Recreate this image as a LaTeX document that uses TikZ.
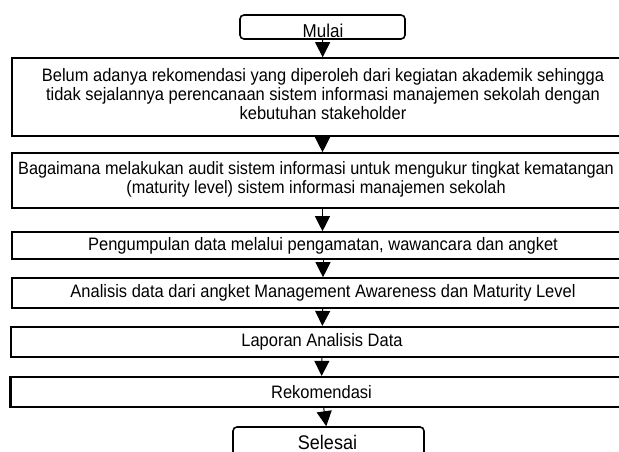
\documentclass[tikz,border=0pt]{standalone}
\usepackage{fontspec}
\setmainfont{Liberation Sans}[FakeStretch=0.915]
\usetikzlibrary{arrows.meta}
\begin{document}
\begin{tikzpicture}[x=1pt,y=-1pt,
  box/.style={draw,line width=1.6pt,minimum width=622pt,inner sep=0pt,align=center,
    font=\fontsize{18}{19}\selectfont},
  term/.style={draw,line width=1.6pt,rounded corners=4pt,inner sep=0pt},
  arr/.style={line width=1pt,-{Triangle[width=15pt,length=15pt]}}
]
\useasboundingbox (0,0) rectangle (619,452);
\node[term,minimum width=165pt,minimum height=24pt] (m) at (322.5,27) {};
\node[font=\fontsize{18.6}{18.6}\selectfont,anchor=base] (mt) at (323,37.5) {Mulai};
\node[box,minimum height=78pt] (b1) at (323,97) {Belum adanya rekomendasi yang diperoleh dari kegiatan akademik sehingga\\tidak sejalannya perencanaan sistem informasi manajemen sekolah dengan\\kebutuhan stakeholder\rule[-6pt]{0pt}{0pt}};
\node[box,minimum height=55pt,minimum width=608pt,font=\fontsize{17.8}{19}\selectfont] (b2) at (316,180.5) {Bagaimana melakukan audit sistem informasi untuk mengukur tingkat kematangan\\(maturity level) sistem informasi manajemen sekolah\rule[-5pt]{0pt}{0pt}};
\node[box,minimum height=27pt] (b3) at (323,245.5) {Pengumpulan data melalui pengamatan, wawancara dan angket};
\node[box,minimum height=30pt] (b4) at (323,293) {Analisis data dari angket Management Awareness dan Maturity Level};
\node[box,minimum height=30pt,line width=2.2pt] (b5) at (322,342) {Laporan Analisis Data};
\node[box,minimum height=30pt,line width=2.2pt] (b6) at (321.5,392) {Rekomendasi};
\node[term,minimum width=191pt,minimum height=30pt] (s) at (328.5,442) {};
\node[font=\fontsize{19.7}{19.7}\selectfont] (st) at (327.5,442) {Selesai};
\draw[arr] (m) -- (b1);
\draw[arr] (b1.south -| m) -- (b2.north -| m);
\draw[arr] (b2.south -| m) -- (b3.north -| m);
\draw[arr] (b3) -- (b4);
\draw[arr] (b4) -- (b5);
\draw[arr] (b5) -- (b6);
\draw[arr] (b6) -- (s);
\end{tikzpicture}
\end{document}
